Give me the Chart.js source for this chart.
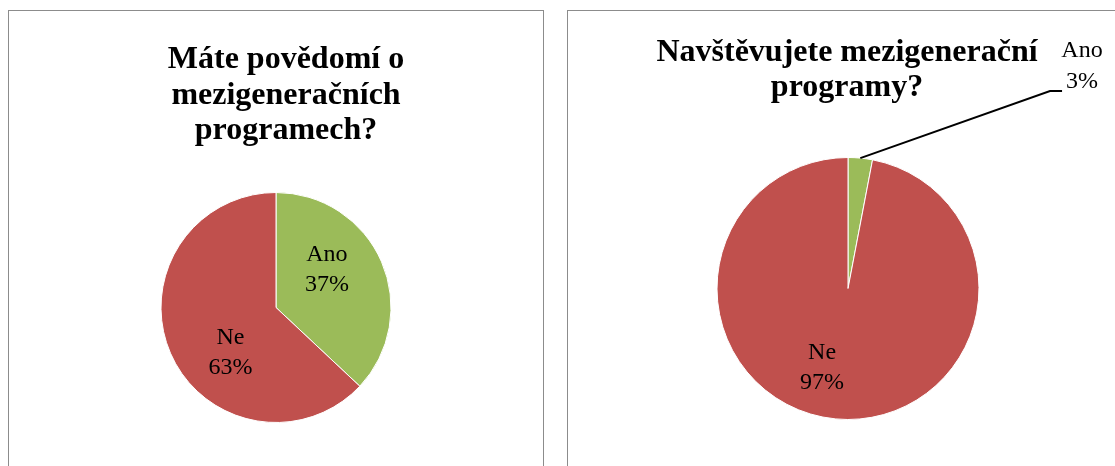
<!DOCTYPE html>
<html>
<head>
<meta charset="utf-8">
<script src="https://cdn.jsdelivr.net/npm/chart.js@4/dist/chart.umd.min.js"></script>
<style>
  body { margin: 0; background: #fff; width: 1115px; height: 466px; overflow: hidden; position: relative; }
  .panel { position: absolute; top: 10px; height: 470px; border: 1px solid #8c8c8c; border-bottom: none; }
  #p1 { left: 8px; width: 534px; }
  #p2 { left: 567px; width: 560px; }
  canvas { position: absolute; left: 0; top: 0; }
</style>
</head>
<body>
<div class="panel" id="p1"><canvas id="left" width="534" height="455"></canvas></div>
<div class="panel" id="p2"><canvas id="right" width="547" height="455"></canvas></div>
<script>
'use strict';

const answers = ['Ano', 'Ne'];
const awareValues = [37, 63];
const visitValues = [3, 97];
const awareTitle = ['Máte povědomí o', 'mezigeneračních', 'programech?'];
const visitTitle = ['Navštěvujete mezigenerační', 'programy?'];
const sliceColors = ['#9BBB59', '#C0504D'];

const serif = '"Liberation Serif", "Times New Roman", serif';

// title drawn by hand so it can sit off the pie's centre line
const headTitle = {
    id: 'headTitle',
    beforeDraw(chart, args, opts) {
        const ctx = chart.ctx;
        ctx.save();
        ctx.font = 'bold 32px ' + serif;
        ctx.fillStyle = '#000';
        ctx.textAlign = 'center';
        ctx.textBaseline = 'alphabetic';
        opts.lines.forEach((t, i) => ctx.fillText(t, opts.x, opts.top + i * opts.gap));
        ctx.restore();
    }
};

const sliceText = {
    id: 'sliceText',
    afterDatasetsDraw(chart, args, opts) {
        const ctx = chart.ctx;
        const meta = chart.getDatasetMeta(0);
        ctx.save();
        ctx.font = '24px ' + serif;
        ctx.fillStyle = '#000';
        ctx.strokeStyle = '#000';
        ctx.lineWidth = 2;
        ctx.textAlign = 'center';
        ctx.textBaseline = 'middle';
        meta.data.forEach((arc, i) => {
            const spot = opts.spots[i];
            const r = arc.outerRadius;
            const x = arc.x + spot.dx * r;
            const y = arc.y + spot.dy * r;
            const gap = spot.gap || 30;
            ctx.fillText(chart.data.labels[i], x, y - gap / 2);
            ctx.fillText(chart.data.datasets[0].data[i] + '%', x, y + gap / 2);
            if (spot.leader) {
                const mid = (arc.startAngle + arc.endAngle) / 2;
                ctx.beginPath();
                ctx.moveTo(arc.x + Math.cos(mid) * r, arc.y + Math.sin(mid) * r);
                ctx.lineTo(arc.x + spot.leader[0] * r, arc.y + spot.leader[1] * r);
                ctx.lineTo(arc.x + spot.leader[2] * r, arc.y + spot.leader[1] * r);
                ctx.stroke();
            }
        });
        ctx.restore();
    }
};

function makePie(id, values, title, padding, spots) {
    return new Chart(document.getElementById(id), {
        type: 'pie',
        data: {
            labels: answers,
            datasets: [{
                data: values,
                backgroundColor: sliceColors,
                borderColor: '#fff',
                borderWidth: 1
            }]
        },
        options: {
            responsive: false,
            animation: false,
            layout: { padding: padding },
            plugins: {
                legend: { display: false },
                tooltip: { enabled: false },
                headTitle: title,
                sliceText: { spots: spots }
            }
        },
        plugins: [headTitle, sliceText]
    });
}

makePie('left', awareValues,
    { lines: awareTitle, x: 277, top: 57, gap: 35.5 },
    { top: 181, bottom: 43, left: 0, right: 0 },
    [{ dx: 0.443, dy: -0.33 }, { dx: -0.396, dy: 0.395 }]);

makePie('right', visitValues,
    { lines: visitTitle, x: 279, top: 50, gap: 35 },
    { top: 146, bottom: 46, left: 13, right: 0 },
    [{ dx: 1.786, dy: -1.695, gap: 31, leader: [1.542, -1.508, 1.634] }, { dx: -0.198, dy: 0.607 }]);
</script>
</body>
</html>
